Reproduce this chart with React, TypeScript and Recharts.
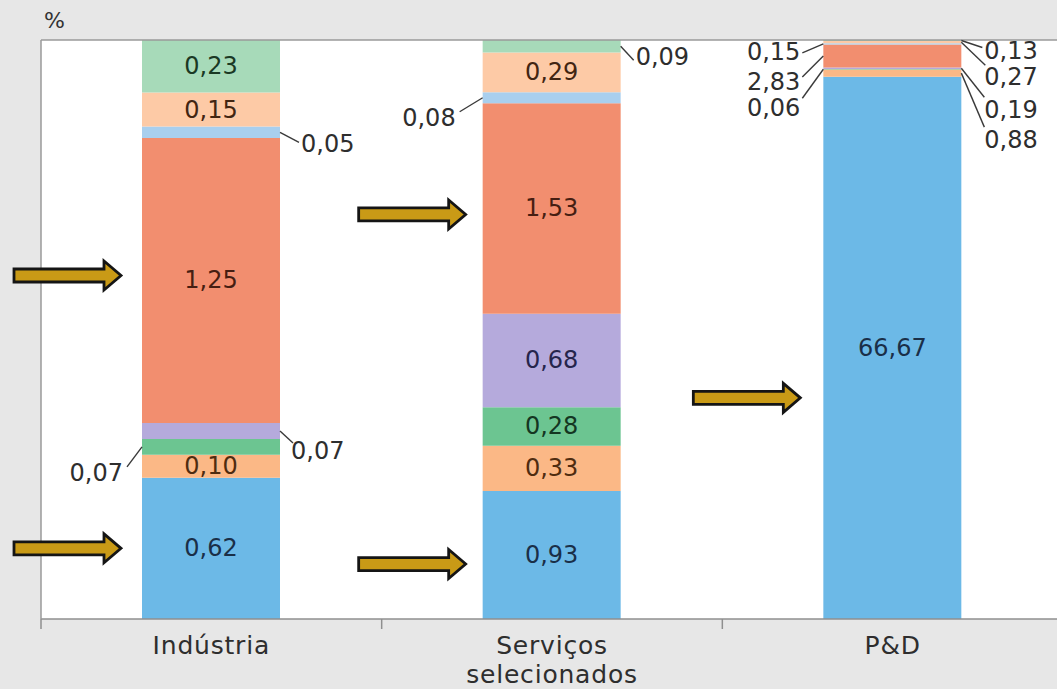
import React from 'react';
import {
  BarChart,
  Bar,
  XAxis,
  YAxis,
  CartesianGrid,
  ReferenceLine,
  LabelList,
  Customized,
} from 'recharts';

// Categories and their two-line tick captions
const categories = ['Indústria', 'Serviços selecionados', 'P&D'];
const tickLines = [['Indústria'], ['Serviços', 'selecionados'], ['P&D']];

// Stack components (bottom to top), values in %
const azul = [0.62, 0.93, 66.67];
const laranja = [0.1, 0.33, 0.88];
const verde = [0.07, 0.28, 0.06];
const lilas = [0.07, 0.68, 0.19];
const salmao = [1.25, 1.53, 2.83];
const azulClaro = [0.05, 0.08, 0.15];
const pessego = [0.15, 0.29, 0.27];
const verdeClaro = [0.23, 0.09, 0.13];

const seriesValues: Record<string, number[]> = {
  azul,
  laranja,
  verde,
  lilas,
  salmao,
  azulClaro,
  pessego,
  verdeClaro,
};

const seriesOrder = ['azul', 'laranja', 'verde', 'lilas', 'salmao', 'azulClaro', 'pessego', 'verdeClaro'];

const fills: Record<string, string> = {
  azul: '#6cb9e7',
  laranja: '#fbb886',
  verde: '#6cc591',
  lilas: '#b5aadc',
  salmao: '#f28e6f',
  azulClaro: '#a9cfee',
  pessego: '#fdcaa6',
  verdeClaro: '#a7dab9',
};

const labelInk: Record<string, string> = {
  azul: '#1a2f48',
  laranja: '#4f2c10',
  verde: '#143622',
  lilas: '#26254c',
  salmao: '#461e12',
  azulClaro: '#1a2f48',
  pessego: '#422512',
  verdeClaro: '#1a3924',
};

const data = categories.map((name, i) => {
  const row: Record<string, string | number> = { name };
  seriesOrder.forEach((k) => {
    row[k] = seriesValues[k][i];
  });
  return row;
});

// Labels placed outside the bar with a leader line:
// l = line end, t = text anchor, both relative to the segment's edge midpoint
type Callout = { side: 'left' | 'right'; lx: number; ly: number; tx: number; ty: number };
const callouts: Record<string, Callout> = {
  'azulClaro-0': { side: 'right', lx: 19, ly: 10, tx: 21, ty: 12 },
  'lilas-0': { side: 'right', lx: 13, ly: 12, tx: 11, ty: 20 },
  'verde-0': { side: 'left', lx: -15, ly: 20, tx: -19, ty: 26 },
  'azulClaro-1': { side: 'left', lx: -23, ly: 14, tx: -27, ty: 20 },
  'verdeClaro-1': { side: 'right', lx: 13, ly: 14, tx: 15, ty: 11 },
  'verdeClaro-2': { side: 'right', lx: 21, ly: 7, tx: 23, ty: 10 },
  'pessego-2': { side: 'right', lx: 24, ly: 23, tx: 23, ty: 35 },
  'lilas-2': { side: 'right', lx: 23, ly: 29, tx: 23, ty: 42 },
  'laranja-2': { side: 'right', lx: 23, ly: 54, tx: 23, ty: 67 },
  'azulClaro-2': { side: 'left', lx: -21, ly: 9, tx: -23, ty: 8 },
  'salmao-2': { side: 'left', lx: -21, ly: 21, tx: -23, ty: 26 },
  'verde-2': { side: 'left', lx: -21, ly: 29, tx: -23, ty: 39 },
};

// Highlight arrows pointing at a segment from the left: gap to the bar, vertical shift
const arrows: Record<string, { gap: number; dy: number }> = {
  'salmao-0': { gap: 21, dy: -5 },
  'azul-0': { gap: 21, dy: 0 },
  'salmao-1': { gap: 17, dy: 6 },
  'azul-1': { gap: 17, dy: 9 },
  'azul-2': { gap: 23, dy: 50 },
};

const FONT = '"DejaVu Sans", "Liberation Sans", sans-serif';
const CHART_W = 1070;
const CHART_H = 689;
const MARGIN = { top: 40, right: 7, left: 0, bottom: 0 };
const Y_AXIS_W = 41;
const X_AXIS_H = 70;
const HALF_BAND = (CHART_W - MARGIN.right - Y_AXIS_W) / categories.length / 2;

const fmt = (v: number) => v.toFixed(2).replace('.', ',');

const Arrow = ({ tipX, tipY }: { tipX: number; tipY: number }) => {
  const len = 107;
  const head = 17;
  const shaft = 6.5;
  const wing = 14.5;
  const pts = [
    [tipX - len, tipY - shaft],
    [tipX - head, tipY - shaft],
    [tipX - head, tipY - wing],
    [tipX, tipY],
    [tipX - head, tipY + wing],
    [tipX - head, tipY + shaft],
    [tipX - len, tipY + shaft],
  ]
    .map((p) => p.join(','))
    .join(' ');
  return <polygon points={pts} fill="#c99a16" stroke="#151515" strokeWidth={2.8} strokeLinejoin="miter" />;
};

const makeLabel = (key: string) => (props: any) => {
  const idx: number = props.index;
  const vb = props.viewBox || {};
  const x = Number(props.x ?? vb.x);
  const y = Number(props.y ?? vb.y);
  const w = Number(props.width ?? vb.width);
  const h = Number(props.height ?? vb.height);
  const value = seriesValues[key][idx];
  const id = `${key}-${idx}`;
  const cy = y + h / 2;
  const parts: React.ReactNode[] = [];

  const arrow = arrows[id];
  if (arrow) {
    parts.push(<Arrow key="arrow" tipX={x - arrow.gap} tipY={cy + arrow.dy} />);
  }

  const c = callouts[id];
  if (c) {
    const ax = c.side === 'right' ? x + w : x;
    parts.push(
      <line
        key="lead"
        x1={ax}
        y1={cy}
        x2={ax + c.lx}
        y2={cy + c.ly}
        stroke="#3a3a3a"
        strokeWidth={1.4}
      />
    );
    parts.push(
      <text
        key="txt"
        x={ax + c.tx}
        y={cy + c.ty}
        textAnchor={c.side === 'right' ? 'start' : 'end'}
        dominantBaseline="central"
        fontFamily={FONT}
        fontSize={24}
        fill="#2e2e2e"
      >
        {fmt(value)}
      </text>
    );
  } else {
    parts.push(
      <text
        key="txt"
        x={x + w / 2}
        y={cy}
        textAnchor="middle"
        dominantBaseline="central"
        fontFamily={FONT}
        fontSize={24}
        fill={labelInk[key]}
      >
        {fmt(value)}
      </text>
    );
  }
  return <g>{parts}</g>;
};

const CategoryTick = (props: any) => {
  const { x, y, index } = props;
  const lines = tickLines[index] || [];
  const bx = x - HALF_BAND;
  return (
    <g>
      <line x1={bx} y1={y} x2={bx} y2={y + 10} stroke="#8f8f8f" strokeWidth={1.5} />
      {lines.map((ln, i) => (
        <text
          key={i}
          x={x}
          y={y + 26 + i * 29}
          textAnchor="middle"
          dominantBaseline="central"
          fontFamily={FONT}
          fontSize={25}
          letterSpacing={0.8}
          fill="#2e2e2e"
        >
          {ln}
        </text>
      ))}
    </g>
  );
};

const UnitMark = () => (
  <text x={44} y={20} dominantBaseline="central" fontFamily={FONT} fontSize={22} fill="#333333">
    %
  </text>
);

export default function App() {
  return (
    <div
      style={{
        position: 'absolute',
        left: 0,
        top: 0,
        width: 1057,
        height: 689,
        overflow: 'hidden',
        background: '#e7e7e7',
      }}
    >
      <BarChart
        width={CHART_W}
        height={CHART_H}
        data={data}
        margin={MARGIN}
        stackOffset="expand"
        barSize={138}
      >
        <CartesianGrid horizontal={false} vertical={false} fill="#ffffff" />
        <XAxis
          dataKey="name"
          height={X_AXIS_H}
          axisLine={{ stroke: '#8f8f8f', strokeWidth: 1.5 }}
          tickLine={false}
          tickSize={0}
          tickMargin={0}
          interval={0}
          tick={<CategoryTick />}
        />
        <YAxis
          width={Y_AXIS_W}
          domain={[0, 1]}
          tick={false}
          tickLine={false}
          axisLine={{ stroke: '#9a9a9a', strokeWidth: 1.5 }}
        />
        <ReferenceLine y={1} stroke="#9a9a9a" strokeWidth={1.5} />
        {seriesOrder.map((k) => (
          <Bar key={k} dataKey={k} stackId="s" fill={fills[k]} isAnimationActive={false}>
            <LabelList dataKey={k} content={makeLabel(k)} />
          </Bar>
        ))}
        <Customized component={UnitMark} />
      </BarChart>
    </div>
  );
}
